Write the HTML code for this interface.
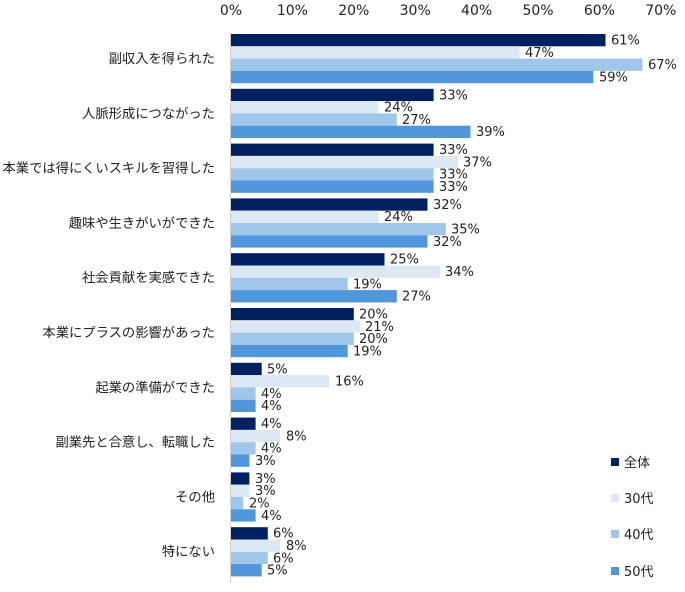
<!DOCTYPE html>
<html><head><meta charset="utf-8"><style>
html,body{margin:0;padding:0;background:#fff;}
svg{display:block;font-family:"DejaVu Sans","Noto Sans CJK JP",sans-serif;}
text{font-size:13px;fill:#222;}
.c{text-anchor:end;font-family:"Liberation Sans","Noto Sans CJK JP",sans-serif;font-size:13.3px;}
.t{text-anchor:middle;font-size:14px;}
.l{font-family:"DejaVu Sans","Noto Sans CJK JP",sans-serif;}
</style></head><body>
<svg width="685" height="592" viewBox="0 0 685 592">
<text class="t" x="231" y="15">0%</text>
<text class="t" x="292.4" y="15">10%</text>
<text class="t" x="353.8" y="15">20%</text>
<text class="t" x="415.2" y="15">30%</text>
<text class="t" x="476.6" y="15">40%</text>
<text class="t" x="538" y="15">50%</text>
<text class="t" x="599.4" y="15">60%</text>
<text class="t" x="660.8" y="15">70%</text>
<line x1="230.5" y1="32" x2="230.5" y2="583" stroke="#d0d0d0" stroke-width="1"/>

<g transform="translate(0,34)">
<text class="c" x="215" y="29">副収入を得られた</text>
<rect x="231" y="0" width="374.5" height="12.3" fill="#002060"/><text x="611" y="10.5">61%</text>
<rect x="231" y="12.3" width="288.6" height="12.3" fill="#dde8f5"/><text x="525" y="22.8">47%</text>
<rect x="231" y="24.6" width="411.4" height="12.3" fill="#a0c6ea"/><text x="648" y="35.1">67%</text>
<rect x="231" y="36.9" width="362.3" height="12.3" fill="#4f96db"/><text x="599" y="47.4">59%</text>
</g>
<g transform="translate(0,88.8)">
<text class="c" x="215" y="29">人脈形成につながった</text>
<rect x="231" y="0" width="202.6" height="12.3" fill="#002060"/><text x="439" y="10.5">33%</text>
<rect x="231" y="12.3" width="147.4" height="12.3" fill="#dde8f5"/><text x="384" y="22.8">24%</text>
<rect x="231" y="24.6" width="165.8" height="12.3" fill="#a0c6ea"/><text x="402" y="35.1">27%</text>
<rect x="231" y="36.9" width="239.5" height="12.3" fill="#4f96db"/><text x="476" y="47.4">39%</text>
</g>
<g transform="translate(0,143.6)">
<text class="c" x="215" y="29">本業では得にくいスキルを習得した</text>
<rect x="231" y="0" width="202.6" height="12.3" fill="#002060"/><text x="439" y="10.5">33%</text>
<rect x="231" y="12.3" width="227.2" height="12.3" fill="#dde8f5"/><text x="463" y="22.8">37%</text>
<rect x="231" y="24.6" width="202.6" height="12.3" fill="#a0c6ea"/><text x="439" y="35.1">33%</text>
<rect x="231" y="36.9" width="202.6" height="12.3" fill="#4f96db"/><text x="439" y="47.4">33%</text>
</g>
<g transform="translate(0,198.4)">
<text class="c" x="215" y="29">趣味や生きがいができた</text>
<rect x="231" y="0" width="196.5" height="12.3" fill="#002060"/><text x="433" y="10.5">32%</text>
<rect x="231" y="12.3" width="147.4" height="12.3" fill="#dde8f5"/><text x="384" y="22.8">24%</text>
<rect x="231" y="24.6" width="214.9" height="12.3" fill="#a0c6ea"/><text x="451" y="35.1">35%</text>
<rect x="231" y="36.9" width="196.5" height="12.3" fill="#4f96db"/><text x="433" y="47.4">32%</text>
</g>
<g transform="translate(0,253.2)">
<text class="c" x="215" y="29">社会貢献を実感できた</text>
<rect x="231" y="0" width="153.5" height="12.3" fill="#002060"/><text x="390" y="10.5">25%</text>
<rect x="231" y="12.3" width="208.8" height="12.3" fill="#dde8f5"/><text x="445" y="22.8">34%</text>
<rect x="231" y="24.6" width="116.7" height="12.3" fill="#a0c6ea"/><text x="353" y="35.1">19%</text>
<rect x="231" y="36.9" width="165.8" height="12.3" fill="#4f96db"/><text x="402" y="47.4">27%</text>
</g>
<g transform="translate(0,308)">
<text class="c" x="215" y="29">本業にプラスの影響があった</text>
<rect x="231" y="0" width="122.8" height="12.3" fill="#002060"/><text x="359" y="10.5">20%</text>
<rect x="231" y="12.3" width="128.9" height="12.3" fill="#dde8f5"/><text x="365" y="22.8">21%</text>
<rect x="231" y="24.6" width="122.8" height="12.3" fill="#a0c6ea"/><text x="359" y="35.1">20%</text>
<rect x="231" y="36.9" width="116.7" height="12.3" fill="#4f96db"/><text x="353" y="47.4">19%</text>
</g>
<g transform="translate(0,362.8)">
<text class="c" x="215" y="29">起業の準備ができた</text>
<rect x="231" y="0" width="30.7" height="12.3" fill="#002060"/><text x="267" y="10.5">5%</text>
<rect x="231" y="12.3" width="98.2" height="12.3" fill="#dde8f5"/><text x="335" y="22.8">16%</text>
<rect x="231" y="24.6" width="24.6" height="12.3" fill="#a0c6ea"/><text x="261" y="35.1">4%</text>
<rect x="231" y="36.9" width="24.6" height="12.3" fill="#4f96db"/><text x="261" y="47.4">4%</text>
</g>
<g transform="translate(0,417.6)">
<text class="c" x="215" y="29">副業先と合意し、転職した</text>
<rect x="231" y="0" width="24.6" height="12.3" fill="#002060"/><text x="261" y="10.5">4%</text>
<rect x="231" y="12.3" width="49.1" height="12.3" fill="#dde8f5"/><text x="286" y="22.8">8%</text>
<rect x="231" y="24.6" width="24.6" height="12.3" fill="#a0c6ea"/><text x="261" y="35.1">4%</text>
<rect x="231" y="36.9" width="18.4" height="12.3" fill="#4f96db"/><text x="255" y="47.4">3%</text>
</g>
<g transform="translate(0,472.4)">
<text class="c" x="215" y="29">その他</text>
<rect x="231" y="0" width="18.4" height="12.3" fill="#002060"/><text x="255" y="10.5">3%</text>
<rect x="231" y="12.3" width="18.4" height="12.3" fill="#dde8f5"/><text x="255" y="22.8">3%</text>
<rect x="231" y="24.6" width="12.3" height="12.3" fill="#a0c6ea"/><text x="249" y="35.1">2%</text>
<rect x="231" y="36.9" width="24.6" height="12.3" fill="#4f96db"/><text x="261" y="47.4">4%</text>
</g>
<g transform="translate(0,527.2)">
<text class="c" x="215" y="29">特にない</text>
<rect x="231" y="0" width="36.8" height="12.3" fill="#002060"/><text x="273" y="10.5">6%</text>
<rect x="231" y="12.3" width="49.1" height="12.3" fill="#dde8f5"/><text x="286" y="22.8">8%</text>
<rect x="231" y="24.6" width="36.8" height="12.3" fill="#a0c6ea"/><text x="273" y="35.1">6%</text>
<rect x="231" y="36.9" width="30.7" height="12.3" fill="#4f96db"/><text x="267" y="47.4">5%</text>
</g>

<rect x="611" y="458" width="8" height="8" fill="#002060"/><text class="l" x="624" y="467">全体</text>
<rect x="611" y="494" width="8" height="8" fill="#dde8f5"/><text class="l" x="624" y="503">30代</text>
<rect x="611" y="530" width="8" height="8" fill="#a0c6ea"/><text class="l" x="624" y="539">40代</text>
<rect x="611" y="567" width="8" height="8" fill="#4f96db"/><text class="l" x="624" y="576">50代</text>
</svg>
</body></html>
